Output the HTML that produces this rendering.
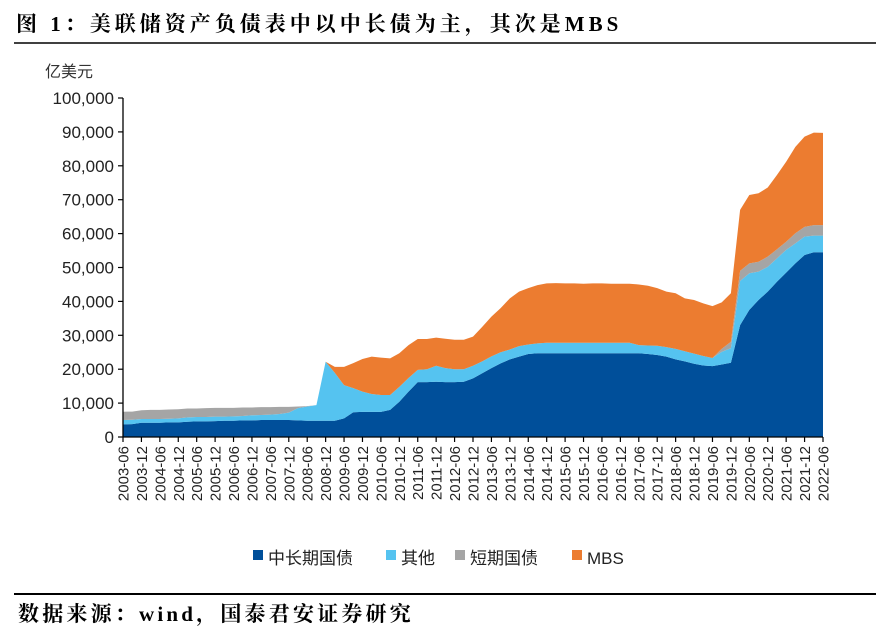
<!DOCTYPE html>
<html><head><meta charset="utf-8"><style>
body{margin:0;background:#fff;width:888px;height:630px;overflow:hidden;font-family:"Liberation Serif","Noto Serif CJK SC",serif}
</style></head><body>
<svg width="888" height="630" viewBox="0 0 888 630">
<text x="16" y="31" font-size="21" font-weight="bold" letter-spacing="4" font-family="'Liberation Serif','Noto Serif CJK SC',serif">图 1：美联储资产负债表中以中长债为主，其次是MBS</text>
<line x1="14" y1="43" x2="876" y2="43" stroke="#000" stroke-width="1.5"/>
<text x="45" y="77" font-size="16" fill="#333" font-family="'Liberation Sans','Noto Sans CJK SC',sans-serif">亿美元</text>
<g id="plot"></g>
<line x1="14" y1="594" x2="876" y2="594" stroke="#000" stroke-width="2"/>
<text x="18" y="621" font-size="21" font-weight="bold" letter-spacing="3.2" font-family="'Liberation Serif','Noto Serif CJK SC',serif">数据来源：wind，国泰君安证券研究</text>
</svg>
<script>
const labels=["2003-06","2003-12","2004-06","2004-12","2005-06","2005-12","2006-06","2006-12","2007-06","2007-12","2008-06","2008-12","2009-06","2009-12","2010-06","2010-12","2011-06","2011-12","2012-06","2012-12","2013-06","2013-12","2014-06","2014-12","2015-06","2015-12","2016-06","2016-12","2017-06","2017-12","2018-06","2018-12","2019-06","2019-12","2020-06","2020-12","2021-06","2021-12","2022-06"];
const yTicks=[0,10000,20000,30000,40000,50000,60000,70000,80000,90000,100000];
const seriesNames=["中长期国债","其他","短期国债","MBS"];
const colors=["#004f9a","#55c3f0","#a5a5a5","#ec7c30"];
// quarterly 2003-06 .. 2022-06
const longTerm=[3750,3800,4200,4200,4200,4300,4300,4500,4600,4600,4700,4800,4800,4900,4900,5000,5000,5000,5000,4900,4800,4800,4800,4800,5500,7300,7400,7400,7400,8000,10400,13400,16200,16200,16300,16200,16200,16300,17300,18800,20300,21700,22900,23700,24500,24700,24700,24700,24700,24700,24700,24700,24700,24700,24700,24700,24700,24500,24200,23700,22900,22300,21600,21100,20900,21400,21900,33000,37500,40400,42900,45800,48500,51200,53700,54500,54500];
const other=[1250,1300,1100,1100,1100,1100,1200,1300,1300,1300,1300,1200,1300,1300,1500,1500,1600,1800,2200,3600,4200,4600,17400,14100,9800,7100,6000,5300,5000,4400,4400,4000,3600,3800,4700,4100,3800,3700,3700,3500,3500,3300,2900,3100,2800,2900,3100,3100,3100,3100,3100,3100,3100,3100,3100,3100,2400,2500,2700,2800,3100,3000,3000,2800,2400,3700,4300,13000,10800,8400,7300,6900,6700,5900,5400,4900,4900];
const shortTerm=[2450,2400,2600,2700,2700,2700,2700,2600,2500,2600,2600,2600,2500,2500,2300,2300,2200,2100,1700,500,100,0,0,0,0,0,0,0,0,0,0,0,0,0,0,0,0,0,0,0,0,0,0,0,0,0,0,0,0,0,0,0,0,0,0,0,0,0,0,0,0,0,0,0,0,900,1900,3000,2900,2900,3000,2700,2400,3000,2900,3100,3100];
const mbs=[0,0,0,0,0,0,0,0,0,0,0,0,0,0,0,0,0,0,0,0,0,0,0,1800,5400,7400,9600,11000,11000,10800,9900,9700,9100,8900,8300,8700,8700,8700,8600,10200,11700,13000,15100,16100,16600,17200,17500,17600,17500,17500,17400,17500,17500,17400,17400,17400,17900,17600,17000,16400,16400,15600,15800,15500,15300,13700,14300,18000,20200,20200,20400,21900,23600,25500,26600,27300,27200];
const series=[longTerm,other,shortTerm,mbs];
const X0=123,X1=823,Y0=437,Y1=98,YMAX=100000;
const xq=i=>X0+(X1-X0)*i/(longTerm.length-1);
const xl=i=>X0+(X1-X0)*i/(labels.length-1);
const y=v=>Y0-(Y0-Y1)*v/YMAX;
const NS="http://www.w3.org/2000/svg";
const g=document.getElementById('plot');
function mk(t,a){const e=document.createElementNS(NS,t);for(const k in a)e.setAttribute(k,a[k]);g.appendChild(e);return e;}
let base=longTerm.map(()=>0);
series.forEach((s,si)=>{
  const top=s.map((v,i)=>base[i]+v);
  let d="M"+xq(0)+","+y(top[0]);
  for(let i=1;i<s.length;i++)d+="L"+xq(i)+","+y(top[i]);
  for(let i=s.length-1;i>=0;i--)d+="L"+xq(i)+","+y(base[i]);
  const p=mk('path',{d:d+"Z",fill:colors[si]});
  
  
  base=top;
});
const ya=mk('line',{x1:X0,y1:Y1,x2:X0,y2:Y0,stroke:'#000','stroke-width':1.3});


yTicks.forEach(v=>{
  mk('line',{x1:X0-5,y1:y(v),x2:X0,y2:y(v),stroke:'#000','stroke-width':1.2});
  const t=mk('text',{x:X0-9,y:y(v)+6,'text-anchor':'end','font-size':17,fill:'#222','font-family':"'Liberation Sans',sans-serif"});
  t.textContent=v.toLocaleString('en-US');
  
  
});
const xa=mk('line',{x1:X0,y1:Y0,x2:X1,y2:Y0,stroke:'#000','stroke-width':1.3});


labels.forEach((l,i)=>{
  mk('line',{x1:xl(i),y1:Y0,x2:xl(i),y2:Y0+5,stroke:'#000','stroke-width':1.2});
  const t=mk('text',{transform:`translate(${xl(i)+5.5},446) rotate(-90)`,'text-anchor':'end','font-size':15,fill:'#222','font-family':"'Liberation Sans',sans-serif"});
  t.textContent=l;
  
  
});
const lx=[253,386,455,572];
seriesNames.forEach((n,i)=>{
  mk('rect',{x:lx[i],y:550,width:10,height:10,fill:colors[i]});
  const t=mk('text',{x:lx[i]+15,y:564,'font-size':17,fill:'#222','font-family':"'Liberation Sans','Noto Sans CJK SC',sans-serif"});
  t.textContent=n;
  
  
});
</script>
</body></html>
